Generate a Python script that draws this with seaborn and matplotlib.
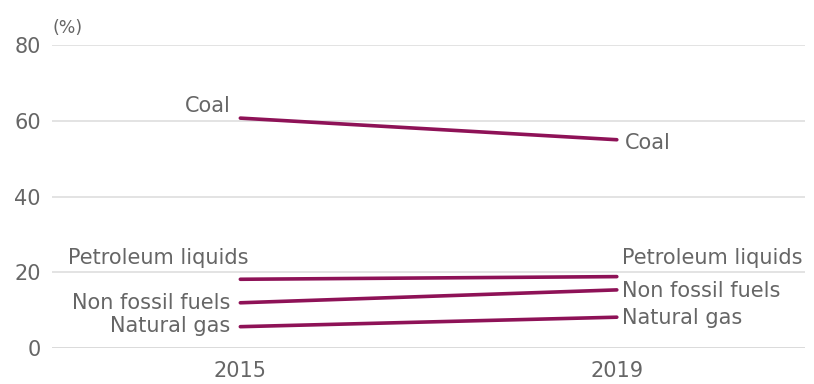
import matplotlib
matplotlib.use("Agg")
import matplotlib.pyplot as plt
import seaborn as sns
import pandas as pd

# Share of primary energy consumption by source (%)
years = [2015, 2019]
sources = ["Coal", "Petroleum liquids", "Non fossil fuels", "Natural gas"]
coal = [60.7, 55.0]
petroleum = [18.2, 18.9]
non_fossil = [12.0, 15.4]
natural_gas = [5.7, 8.2]
y_ticks = [0, 20, 40, 60, 80]
x_ticks = [2015, 2019]

series = {
    "Coal": coal,
    "Petroleum liquids": petroleum,
    "Non fossil fuels": non_fossil,
    "Natural gas": natural_gas,
}
df = pd.DataFrame(
    [(s, yr, v) for s in sources for yr, v in zip(years, series[s])],
    columns=["source", "year", "share"],
)

sns.set_theme(style="white")
plt.rcParams["font.family"] = ["DejaVu Sans"]

LINE = "#8e1257"
TEXT = "#666666"
GRID = "#e3e3e3"

fig = plt.figure(figsize=(8.14, 3.84), dpi=100)
ax = fig.add_axes([0.064, 0.093, 0.925, 0.790])

sns.lineplot(
    data=df, x="year", y="share", hue="source",
    palette={s: LINE for s in sources}, linewidth=2.6,
    legend=False, ax=ax, solid_capstyle="round",
)

ax.set_xlim(2013, 2021)
ax.set_ylim(0, 80)
ax.set_yticks(y_ticks)
ax.set_xticks(x_ticks)
ax.set_xticklabels([str(x) for x in x_ticks])
for yv in y_ticks:
    ax.axhline(yv, color="#dadada" if yv == 0 else GRID,
               linewidth=1.4, zorder=0)
ax.grid(False)
for sp in ax.spines.values():
    sp.set_visible(False)
ax.tick_params(axis="both", length=0, labelsize=15, labelcolor=TEXT)
ax.tick_params(axis="y", pad=8)
ax.tick_params(axis="x", pad=9)
ax.set_xlabel("")
ax.set_ylabel("")

ax.text(0.0, 1.025, "(%)", transform=ax.transAxes, fontsize=12.5,
        color=TEXT, ha="left", va="bottom")

# Series labels at both ends of each line: (dx, dy) offsets in pixels
left_offsets = {
    "Coal": (-10, 12, "right"),
    "Petroleum liquids": (8, 21, "right"),
    "Non fossil fuels": (-10, 0, "right"),
    "Natural gas": (-10, 1, "right"),
}
right_offsets = {
    "Coal": (8, -3, "left"),
    "Petroleum liquids": (5, 19, "left"),
    "Non fossil fuels": (5, -1, "left"),
    "Natural gas": (5, -1, "left"),
}
for s in sources:
    for yr, v, offs in ((years[0], series[s][0], left_offsets),
                        (years[1], series[s][1], right_offsets)):
        dx, dy, ha = offs[s]
        ax.annotate(s, (yr, v), xytext=(dx, dy), textcoords="offset pixels",
                    ha=ha, va="center", fontsize=15, color=TEXT)

fig.savefig("out.png", dpi=100)
